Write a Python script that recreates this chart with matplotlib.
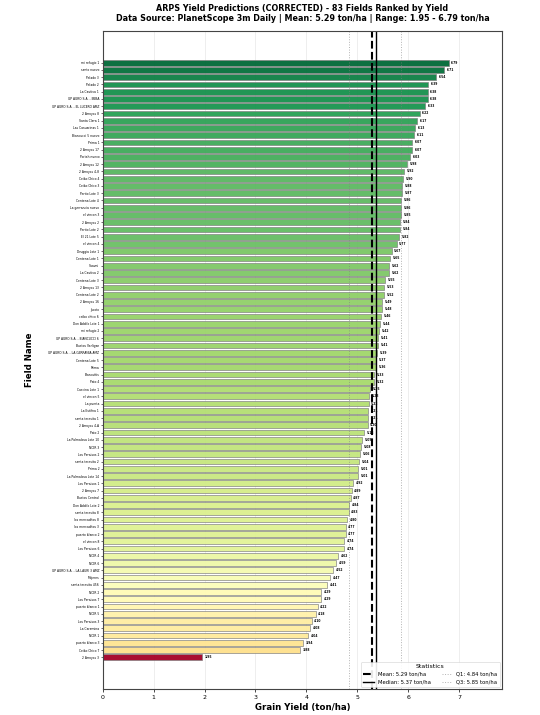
import matplotlib
matplotlib.use("Agg")
import matplotlib.pyplot as plt
import numpy as np

# campos ordenados de mayor a menor rendimiento
fields = [
    "mi refugio 1", "santo nuevo", "Pelado 3", "Pelado 2", "La Cautiva 1",
    "GP AGRO S.A. - IBIBA", "GP AGRO S.A. - EL LUCERO AMZ", "2 Arroyos 8", "Santa Clara 1",
    "Las Casuarinas 1", "Biancucci 5 nuevo", "Prima 1", "2 Arroyos 17", "Porteh nuevo",
    "2 Arroyos 12", "2 Arroyos 4-8", "Ceibo Chico 4", "Ceibo Chico 3", "Perito Lote 3",
    "Centena Lote 4", "La gerrancia nuevo", "el vincon 3", "2 Arroyos 2", "Perito Lote 2",
    "El 21 Lote 5", "el vincon 4", "Druggia Lote 1", "Centena Lote 1", "Saavni",
    "La Cautiva 2", "Centena Lote 3", "2 Arroyos 13", "Centena Lote 2", "2 Arroyos 16",
    "Jacoto", "ceibo chico 6", "Don Adolfo Lote 1", "mi refugio 2",
    "GP AGRO S.A. - BIANCUCCI 6", "Bustos Verligan", "GP AGRO S.A. - LA GERRANIA AMZ",
    "Centena Lote 5", "Prima", "Biancuttis", "Pato 4", "Cascina Lote 1", "el vincon 5",
    "La puerta", "La Estifna 1", "santa teresita 1", "2 Arroyos 4-A", "Pato 2",
    "La Palmalosa Lote 10", "NOIR 3", "Los Paraisos 2", "santa teresita 2", "Prima 2",
    "La Palmalosa Lote 14", "Los Paraisos 1", "2 Arroyos 7", "Bustos Central",
    "Don Adolfo Lote 2", "santa teresita 8", "los mercaditos 8", "los mercaditos 3",
    "puerto blanco 2", "el vincon 8", "Los Paraisos 6", "NOIR 4", "NOIR 6",
    "GP AGRO S.A. - LA LAURI 3 AMZ", "Mujeres", "santa teresita 456", "NOIR 2",
    "Los Paraisos 7", "puerto blanco 1", "NOIR 5", "Los Paraisos 3", "La Caramina",
    "NOIR 1", "puerto blanco 3", "Ceibo Chico 7", "2 Arroyos 3",
]
yields = [
    6.79, 6.71, 6.54, 6.39, 6.38, 6.38, 6.33, 6.22, 6.17, 6.13, 6.11, 6.07, 6.07, 6.03,
    5.98, 5.92, 5.90, 5.88, 5.87, 5.86, 5.86, 5.85, 5.84, 5.84, 5.82, 5.77, 5.67, 5.65,
    5.62, 5.62, 5.55, 5.53, 5.52, 5.49, 5.48, 5.46, 5.44, 5.42, 5.41, 5.41, 5.39, 5.37,
    5.36, 5.33, 5.32, 5.25, 5.23, 5.22, 5.21, 5.21, 5.20, 5.13, 5.09, 5.08, 5.06, 5.04,
    5.01, 5.01, 4.92, 4.89, 4.87, 4.84, 4.83, 4.80, 4.77, 4.77, 4.74, 4.74, 4.62, 4.59,
    4.52, 4.47, 4.41, 4.29, 4.29, 4.22, 4.18, 4.10, 4.08, 4.04, 3.94, 3.88, 1.95,
]
mean_val = 5.29
median_val = 5.37
q1_val = 4.84
q3_val = 5.85

vals = np.array(yields)
pos = np.arange(len(fields))

fig, ax = plt.subplots(figsize=(5.4, 7.15), dpi=100)
fig.subplots_adjust(left=0.19, right=0.93, top=0.957, bottom=0.036)

# colores segun rendimiento
norm = plt.Normalize(vals.min(), vals.max())
cols = plt.cm.RdYlGn(norm(vals))
ax.barh(pos, vals, height=0.8, color=cols, edgecolor="gray", linewidth=0.5, alpha=0.95)

for p, v in zip(pos, vals):
    ax.text(v + 0.05, p, f"{v:.2f}", va="center", ha="left", fontsize=2.2, fontweight="bold")

ax.axvline(mean_val, color="black", linestyle="--", linewidth=1.5, label=f"Mean: {mean_val:.2f} ton/ha")
ax.axvline(median_val, color="black", linestyle="-", linewidth=1.0, label=f"Median: {median_val:.2f} ton/ha")
ax.axvline(q1_val, color="gray", linestyle=":", linewidth=0.7, alpha=0.6, label=f"Q1: {q1_val:.2f} ton/ha")
ax.axvline(q3_val, color="gray", linestyle=":", linewidth=0.7, alpha=0.6, label=f"Q3: {q3_val:.2f} ton/ha")

ax.set_yticks(pos)
ax.set_yticklabels(fields, fontsize=2.2)
ax.set_ylim(len(fields) - 1 + 4.4, -4.4)
ax.set_xlim(0, vals.max() * 1.155)
ax.tick_params(axis="x", labelsize=4.5, length=2, width=0.5, pad=2)
ax.tick_params(axis="y", length=1.5, width=0.4, pad=1)
ax.grid(axis="x", alpha=0.3, linewidth=0.5)
ax.set_axisbelow(True)
for s in ax.spines.values():
    s.set_linewidth(0.8)
    s.set_color("#444444")

ax.set_xlabel("Grain Yield (ton/ha)", fontsize=6.2, fontweight="bold", labelpad=2)
ax.set_ylabel("Field Name", fontsize=6.2, fontweight="bold", labelpad=10)
ax.set_title("ARPS Yield Predictions (CORRECTED) - 83 Fields Ranked by Yield\n"
             f"Data Source: PlanetScope 3m Daily | Mean: {mean_val:.2f} ton/ha | "
             f"Range: {vals.min():.2f} - {vals.max():.2f} ton/ha",
             fontsize=5.8, fontweight="bold", pad=7, linespacing=1.15)

leg = ax.legend(loc="lower right", ncol=2, fontsize=3.8, title="Statistics", title_fontsize=4.5,
                frameon=True, framealpha=0.9)
leg.get_frame().set_linewidth(0.4)

plt.savefig("out.png", dpi=100)
